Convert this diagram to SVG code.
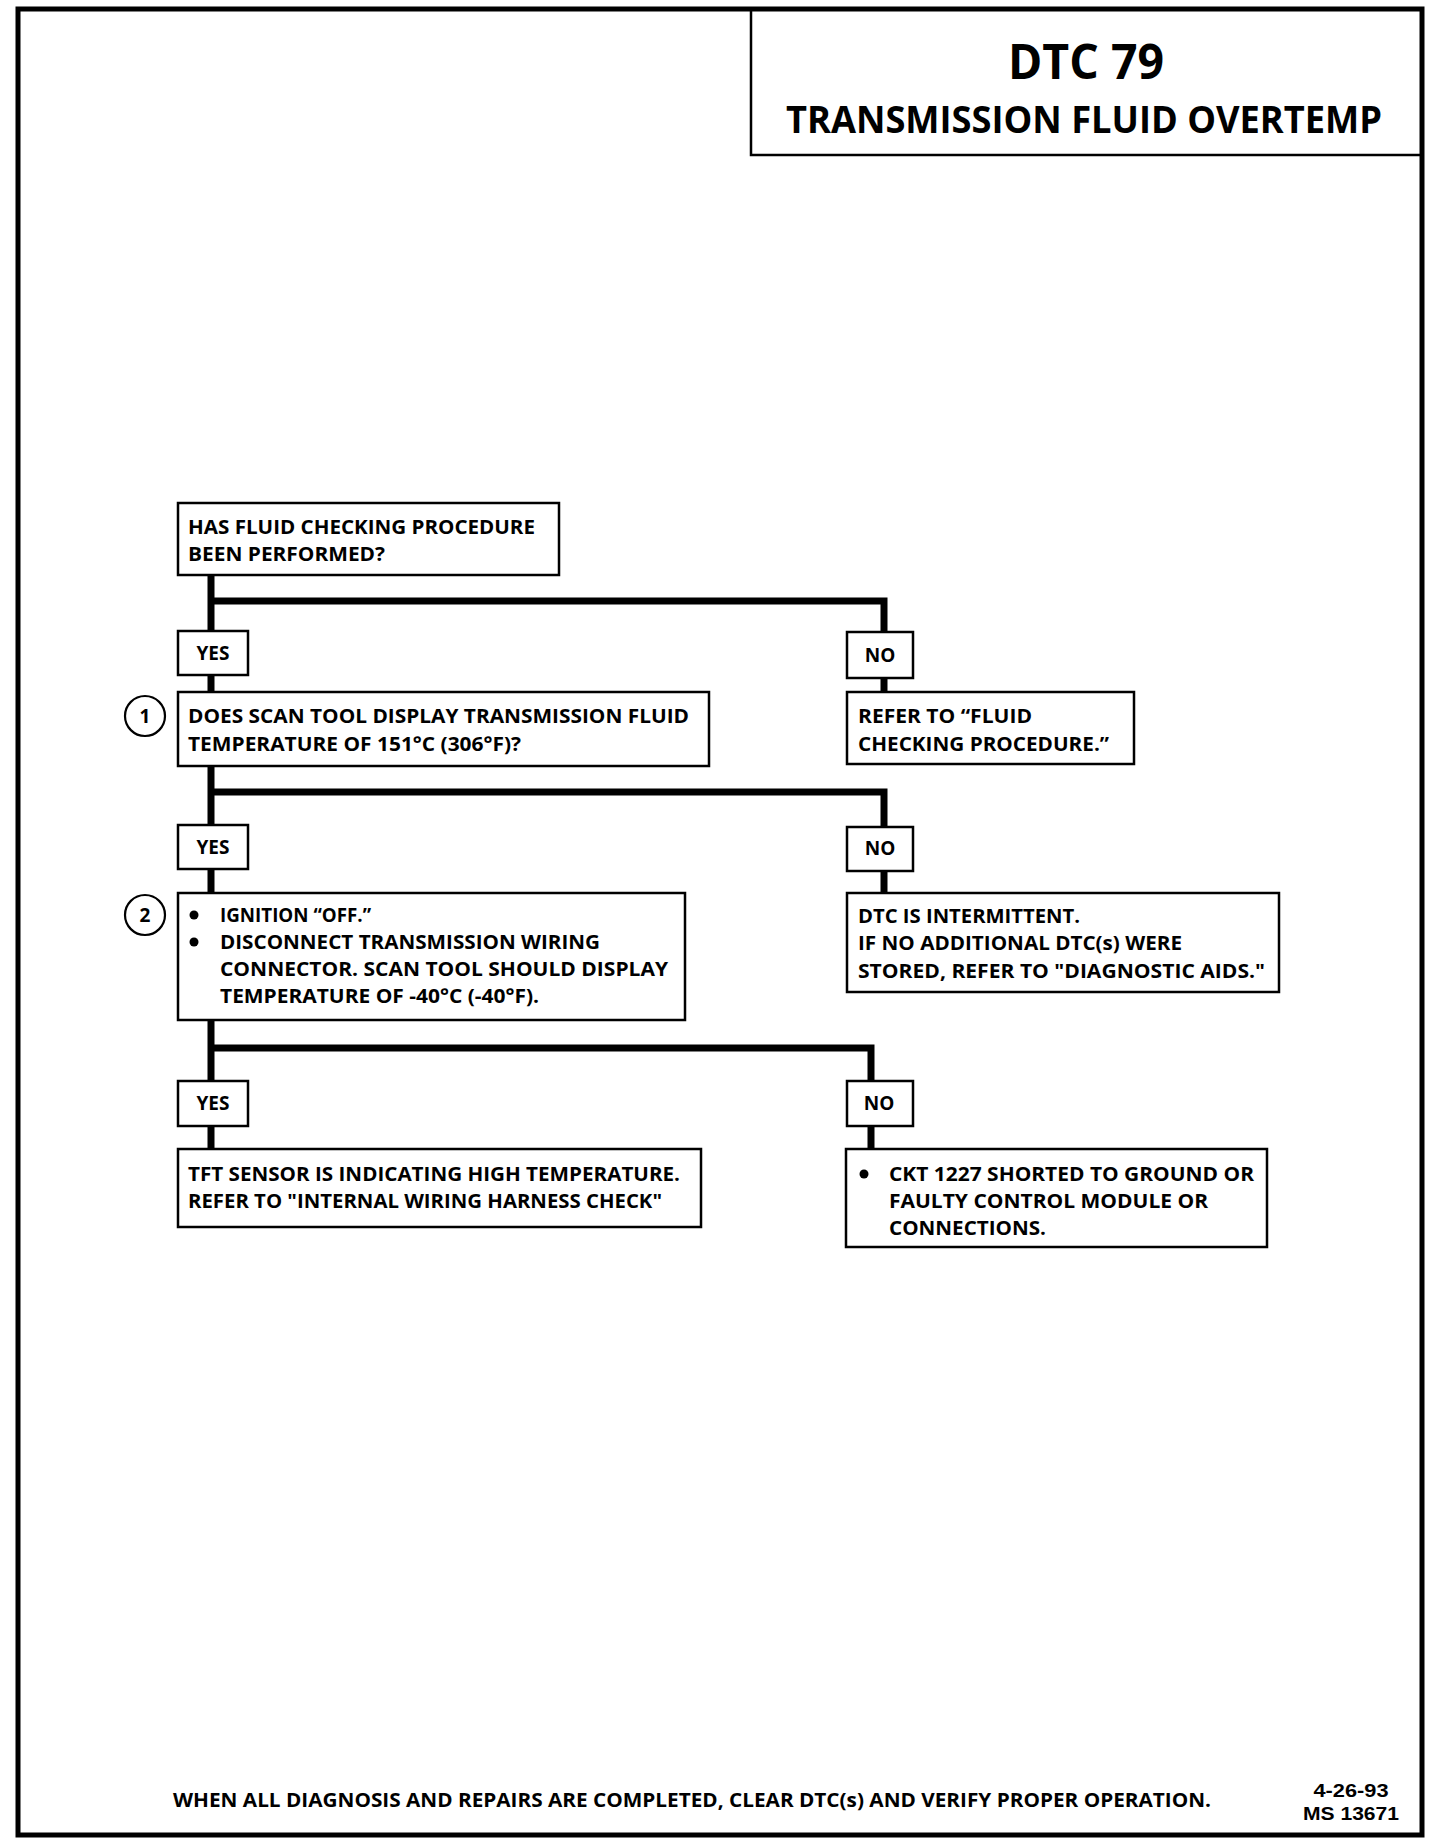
<svg xmlns="http://www.w3.org/2000/svg" width="1440" height="1844" viewBox="0 0 1440 1844">
<style>
.t{font-family:"Open Sans","Liberation Sans",sans-serif;font-weight:700;font-size:19.5px;fill:#000}
.lb{font-family:"Open Sans","Liberation Sans",sans-serif;font-weight:700;font-size:19px;fill:#000;text-anchor:middle}
.sm{font-family:"Liberation Sans",sans-serif;font-weight:700;font-size:18px;fill:#000;text-anchor:middle}
.box{fill:#fff;stroke:#000;stroke-width:2.5}
.conn{fill:none;stroke:#000;stroke-width:7;stroke-linejoin:miter;stroke-linecap:butt}
.circ{fill:#fff;stroke:#000;stroke-width:2.2}
</style>
<rect x="0" y="0" width="1440" height="1844" fill="#fff"/>
<rect x="18" y="9" width="1404" height="1826" fill="none" stroke="#000" stroke-width="5"/>
<g id="title">
<path d="M751 9 V155 H1422" fill="none" stroke="#000" stroke-width="2.5"/>
<text x="1086" y="79" text-anchor="middle" style="font-family:'Open Sans','Liberation Sans',sans-serif;font-weight:700;font-size:48px" textLength="156" lengthAdjust="spacingAndGlyphs">DTC 79</text>
<text x="1084" y="133" text-anchor="middle" style="font-family:'Open Sans','Liberation Sans',sans-serif;font-weight:700;font-size:38px" textLength="596" lengthAdjust="spacingAndGlyphs">TRANSMISSION FLUID OVERTEMP</text>
</g>
<g id="connectors">
<path class="conn" d="M211 575 V631 M211 675 V692 M211 601 H884 V632 M884 678 V692"/>
<path class="conn" d="M211 766 V825 M211 869 V893 M211 792 H884 V827 M884 871 V893"/>
<path class="conn" d="M211 1020 V1081 M211 1126 V1149 M211 1048 H871 V1081 M871 1126 V1149"/>
</g>
<g id="q1">
<rect class="box" x="178" y="503" width="381" height="72"/>
<text class="t" x="188" y="534" textLength="347" lengthAdjust="spacingAndGlyphs">HAS FLUID CHECKING PROCEDURE</text>
<text class="t" x="188" y="561" textLength="197" lengthAdjust="spacingAndGlyphs">BEEN PERFORMED?</text>
</g>
<g id="yes1"><rect class="box" x="178" y="631" width="70" height="44"/><text class="lb" x="213" y="660">YES</text></g>
<g id="no1"><rect class="box" x="847" y="632" width="66" height="46"/><text class="lb" x="880" y="662">NO</text></g>
<g id="q2">
<circle class="circ" cx="145" cy="716" r="20"/>
<text class="lb" x="145" y="723">1</text>
<rect class="box" x="178" y="692" width="531" height="74"/>
<text class="t" x="188" y="723" textLength="501" lengthAdjust="spacingAndGlyphs">DOES SCAN TOOL DISPLAY TRANSMISSION FLUID</text>
<text class="t" x="188" y="751" textLength="333" lengthAdjust="spacingAndGlyphs">TEMPERATURE OF 151°C (306°F)?</text>
</g>
<g id="refer1">
<rect class="box" x="847" y="692" width="287" height="72"/>
<text class="t" x="858" y="723" textLength="174" lengthAdjust="spacingAndGlyphs">REFER TO “FLUID</text>
<text class="t" x="858" y="751" textLength="251" lengthAdjust="spacingAndGlyphs">CHECKING PROCEDURE.”</text>
</g>
<g id="yes2"><rect class="box" x="178" y="825" width="70" height="44"/><text class="lb" x="213" y="854">YES</text></g>
<g id="no2"><rect class="box" x="847" y="827" width="66" height="44"/><text class="lb" x="880" y="855">NO</text></g>
<g id="q3">
<circle class="circ" cx="145" cy="915" r="20"/>
<text class="lb" x="145" y="922">2</text>
<rect class="box" x="178" y="893" width="507" height="127"/>
<circle cx="194" cy="915" r="4.5"/>
<circle cx="194" cy="942" r="4.5"/>
<text class="t" x="220" y="922" textLength="151" lengthAdjust="spacingAndGlyphs">IGNITION “OFF.”</text>
<text class="t" x="220" y="949" textLength="380" lengthAdjust="spacingAndGlyphs">DISCONNECT TRANSMISSION WIRING</text>
<text class="t" x="220" y="976" textLength="448" lengthAdjust="spacingAndGlyphs">CONNECTOR.  SCAN TOOL SHOULD DISPLAY</text>
<text class="t" x="220" y="1003" textLength="319" lengthAdjust="spacingAndGlyphs">TEMPERATURE OF -40°C (-40°F).</text>
</g>
<g id="intermittent">
<rect class="box" x="847" y="893" width="432" height="99"/>
<text class="t" x="858" y="923" textLength="222" lengthAdjust="spacingAndGlyphs">DTC IS INTERMITTENT.</text>
<text class="t" x="858" y="950" textLength="324" lengthAdjust="spacingAndGlyphs">IF NO ADDITIONAL DTC(s) WERE</text>
<text class="t" x="858" y="978" textLength="407" lengthAdjust="spacingAndGlyphs">STORED, REFER TO "DIAGNOSTIC AIDS."</text>
</g>
<g id="yes3"><rect class="box" x="178" y="1081" width="70" height="45"/><text class="lb" x="213" y="1110">YES</text></g>
<g id="no3"><rect class="box" x="847" y="1081" width="66" height="45"/><text class="lb" x="879" y="1110">NO</text></g>
<g id="tft">
<rect class="box" x="178" y="1149" width="523" height="78"/>
<text class="t" x="188" y="1181" textLength="492" lengthAdjust="spacingAndGlyphs">TFT SENSOR IS INDICATING HIGH TEMPERATURE.</text>
<text class="t" x="188" y="1208" textLength="474" lengthAdjust="spacingAndGlyphs">REFER TO "INTERNAL WIRING HARNESS CHECK"</text>
</g>
<g id="ckt">
<rect class="box" x="846" y="1149" width="421" height="98"/>
<circle cx="864" cy="1174" r="4.5"/>
<text class="t" x="889" y="1181" textLength="365" lengthAdjust="spacingAndGlyphs">CKT 1227 SHORTED TO GROUND OR</text>
<text class="t" x="889" y="1208" textLength="319" lengthAdjust="spacingAndGlyphs">FAULTY CONTROL MODULE OR</text>
<text class="t" x="889" y="1235" textLength="157" lengthAdjust="spacingAndGlyphs">CONNECTIONS.</text>
</g>
<g id="footer">
<text class="t" x="173" y="1807" textLength="1038" lengthAdjust="spacingAndGlyphs">WHEN ALL DIAGNOSIS AND REPAIRS ARE COMPLETED, CLEAR DTC(s) AND VERIFY PROPER OPERATION.</text>
<text class="sm" x="1351" y="1797" textLength="75" lengthAdjust="spacingAndGlyphs">4-26-93</text>
<text class="sm" x="1351" y="1820" textLength="96" lengthAdjust="spacingAndGlyphs">MS 13671</text>
</g>
</svg>
